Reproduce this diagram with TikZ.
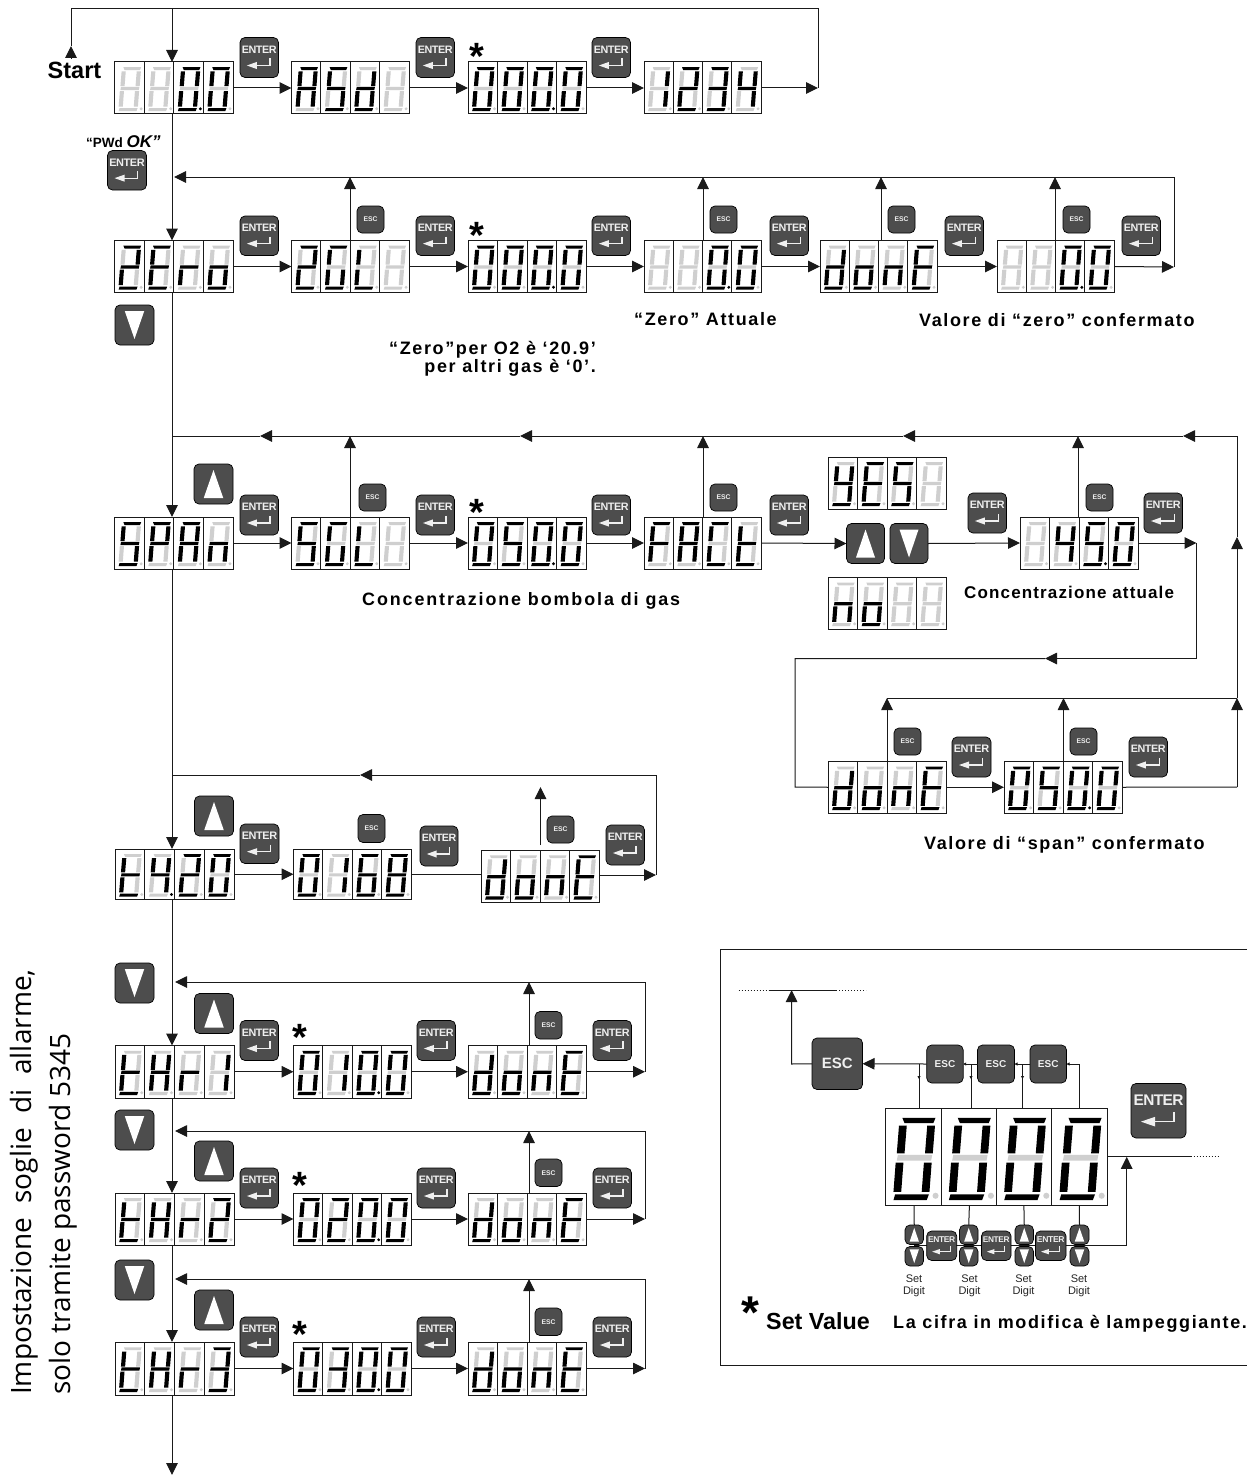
\documentclass[tikz,border=0pt]{standalone}
\usepackage{fontspec}
\setmainfont{Liberation Sans}
\newfontfamily\sidefont{Open Sans}
\newfontfamily\lblfont[LetterSpace=9]{Liberation Sans}
\newfontfamily\lblwide[LetterSpace=10.6]{Liberation Sans}
\newfontfamily\lblnarrow[LetterSpace=6.7]{Liberation Sans}
\usetikzlibrary{arrows.meta,calc}
\definecolor{dimseg}{HTML}{CFCFCF}
\definecolor{btngray}{HTML}{4D4D4D}
\definecolor{btntext}{HTML}{EFEFEF}
\definecolor{linegray}{HTML}{1A1A1A}
\makeatletter
\newcommand{\DSeg}[3]{\in@{#1}{#2}\ifin@\fill[black] #3;\else\fill[dimseg] #3;\fi}
\makeatother
\tikzset{
 conn/.style={draw=linegray,line width=1pt},
 arr/.style={conn,-{Triangle[length=12pt,width=11.5pt]}},
 tiny/.style={conn,line width=.8pt,-{Triangle[length=3pt,width=3pt]}},
 dispbox/.style={draw=linegray,line width=1pt,fill=white,inner sep=0pt,outer sep=0pt,anchor=north west},
 btn/.style={draw=black,line width=.7pt,fill=btngray,rounded corners=5pt,inner sep=0pt,outer sep=0pt,anchor=north west},
 lbl/.style={inner sep=0pt,anchor=base west,text=black},
 lblf/.style={font=\lblfont\bfseries\fontsize{18}{18}\selectfont},
 stars/.style={inner sep=0pt,font=\bfseries\fontsize{38}{38}\selectfont},
 sdcap/.style={inner sep=0pt,font=\fontsize{11}{12.5}\selectfont,align=center,text=black!85},
}
% one digit: x0 y0 w h segs
\newcommand{\Cell}[5]{%
 \pgfmathsetmacro\rr{0.055*#3}%
 \begin{scope}[shift={(#1,#2)},x=#3pt,y=-#4pt]
 \DSeg{a}{#5}{(.30,.10)--(.90,.10)--(.86,.155)--(.34,.155)--cycle}
 \DSeg{f}{#5}{(.24,.18)--(.38,.18)--(.34,.465)--(.20,.465)--cycle}
 \DSeg{b}{#5}{(.75,.18)--(.89,.18)--(.85,.465)--(.71,.465)--cycle}
 \DSeg{g}{#5}{(.22,.48)--(.84,.48)--(.82,.54)--(.20,.54)--cycle}
 \DSeg{e}{#5}{(.18,.56)--(.32,.56)--(.28,.86)--(.14,.86)--cycle}
 \DSeg{c}{#5}{(.69,.56)--(.83,.56)--(.79,.86)--(.65,.86)--cycle}
 \DSeg{d}{#5}{(.17,.885)--(.78,.885)--(.74,.945)--(.14,.945)--cycle}
 \DSeg{p}{#5}{(.90,.90) circle[radius=\rr pt]}
 \end{scope}}
% display: name x0 y0 x1 y1 d1 d2 d3 d4
\newcommand{\Disp}[9]{%
 \pgfmathsetmacro\dw{#4-#2}\pgfmathsetmacro\dh{#5-#3}\pgfmathsetmacro\cw{\dw/4}%
 \pgfmathsetmacro\xa{#2+\cw}\pgfmathsetmacro\xb{#2+2*\cw}\pgfmathsetmacro\xc{#2+3*\cw}%
 \node[dispbox,minimum width=\dw pt,minimum height=\dh pt] (#1) at (#2,#3) {};
 \draw[conn] (\xa,#3)--(\xa,#5) (\xb,#3)--(\xb,#5) (\xc,#3)--(\xc,#5);
 \Cell{#2}{#3}{\cw}{\dh}{#6}\Cell{\xa}{#3}{\cw}{\dh}{#7}\Cell{\xb}{#3}{\cw}{\dh}{#8}\Cell{\xc}{#3}{\cw}{\dh}{#9}}
% enter key: name x0 y0 w h
\newcommand{\Enter}[5]{%
 \node[btn,minimum width=#4 pt,minimum height=#5 pt] (#1) at (#2,#3) {};
 \pgfmathsetmacro\fs{#4*0.28}%
 \node[inner sep=0pt,text=btntext] (#1-t) at ($(#1.north west)+(.5*#4,.30*#5)$) {\fontsize{\fs}{\fs}\bfseries\selectfont\addfontfeature{LetterSpace=-4}ENTER};
 \begin{scope}[shift={(#2,#3)},x=#4pt,y=-#5pt]
 \draw[btntext,line width=0.028*#4 pt] (.78,.52)--(.78,.70)--(.38,.70);
 \fill[btntext] (.44,.61)--(.44,.79)--(.18,.70)--cycle;
 \end{scope}}
% esc key: name x0 y0 w h fontsize
\newcommand{\Esc}[6]{%
 \node[btn,minimum width=#4 pt,minimum height=#5 pt,text=btntext,font=\bfseries\fontsize{#6}{#6}\selectfont] (#1) at (#2,#3) {ESC};}
% arrow keys: name x0 y0 w h
\newcommand{\UpKey}[5]{%
 \node[btn,minimum width=#4 pt,minimum height=#5 pt] (#1) at (#2,#3) {};
 \begin{scope}[shift={(#2,#3)},x=#4pt,y=-#5pt]\fill[white] (.5,.15)--(.75,.85)--(.25,.85)--cycle;\end{scope}}
\newcommand{\DownKey}[5]{%
 \node[btn,minimum width=#4 pt,minimum height=#5 pt] (#1) at (#2,#3) {};
 \begin{scope}[shift={(#2,#3)},x=#4pt,y=-#5pt]\fill[white] (.5,.85)--(.75,.15)--(.25,.15)--cycle;\end{scope}}
\newcommand{\SetDigit}[3]{\node[sdcap] (#1) at (#2,#3) {Set\\Digit};}
\begin{document}
\begin{tikzpicture}[x=1pt,y=-1pt]
\path[use as bounding box,fill=white] (0,0) rectangle (1247,1477);
\coordinate (busx) at (172,0);
% ---------- row 1
\Disp{a1}{114.5}{62}{233}{114}{}{}{abcdefp}{abcdef}
\Disp{a2}{291.5}{62}{409}{114}{abcefg}{afgcd}{bcdeg}{}
\Disp{a3}{468}{62}{586}{114}{abcdef}{abcdef}{abcdefp}{abcdef}
\Disp{a4}{644}{62}{761}{114}{bc}{abged}{abgcd}{fgbc}
\Enter{ea1}{240}{37.5}{38.5}{40}
\Enter{ea2}{416}{37.5}{38.5}{40}
\Enter{ea3}{592}{37.5}{38.5}{40}
\Enter{epwd}{107.5}{150.5}{39}{39.5}
\node[stars] (s1) at (477,56) {*};
\node[lbl,font=\bfseries\fontsize{23.5}{23.5}\selectfont] (start) at (47.5,79) {Start};
\node[lbl] (pwd) at (86,147) {\fontsize{13.5}{14}\bfseries\selectfont “PWd \textit{\fontsize{17}{17}\selectfont OK”}};
\coordinate (startb) at (71,58);
\coordinate (starta) at (71,46);
\coordinate (tl) at (71,8.5);
\coordinate (tb) at (172,8.5);
\coordinate (tr) at (818,8.5);
\coordinate (tre) at (818,88);
\draw[conn] (starta) -- (tl) -- (tr) -- (tre);
\draw[arr] (startb) -- (starta);
\draw[arr] (tb) -- (a1.north -| tb);
\draw[arr] (a1.east) -- (a2.west);
\draw[arr] (a2.east) -- (a3.west);
\draw[arr] (a3.east) -- (a4.west);
\draw[arr] (a4.east) -- (tre);
% ---------- row 2
\Disp{z1}{114.5}{240.5}{233}{292.5}{abged}{afged}{eg}{cdeg}
\Disp{z2}{291.5}{240.5}{409}{292.5}{abged}{afedc}{fed}{}
\Disp{z3}{468}{240.5}{586}{292.5}{abcdef}{abcdef}{abcdefp}{abcdef}
\Disp{z4}{644}{240.5}{761}{292.5}{}{}{abcdefp}{abcdef}
\Disp{z5}{820}{240.5}{937}{292.5}{bcdeg}{cdeg}{ceg}{afged}
\Disp{z6}{997}{240.5}{1114}{292.5}{}{}{abcdefp}{abcdef}
\Enter{ez1}{240}{216}{38.5}{39.5}
\Enter{ez2}{416}{216}{38.5}{39.5}
\Enter{ez3}{592}{216}{38.5}{39.5}
\Enter{ez4}{770}{216}{38.5}{39.5}
\Enter{ez5}{945}{216}{38.5}{39.5}
\Enter{ez6}{1122}{216}{38.5}{39.5}
\Esc{xz2}{357}{206}{27}{27}{6.8}
\Esc{xz4}{710}{206}{27}{27}{6.8}
\Esc{xz5}{888}{206}{27}{27}{6.8}
\Esc{xz6}{1063}{206}{27}{27}{6.8}
\DownKey{dn1}{115}{305}{39}{40}
\node[stars] (s2) at (477,235) {*};
\coordinate (z2t) at (350,177);
\coordinate (z4t) at (703,177);
\coordinate (z5t) at (881,177);
\coordinate (z6t) at (1055,177);
\coordinate (ztr) at (1174,177);
\coordinate (zte) at (1174,267);
\coordinate (ztl) at (174,177);
\draw[arr] (a1.south -| busx) -- (z1.north -| busx);
\draw[arr] (z1.east) -- (z2.west);
\draw[arr] (z2.east) -- (z3.west);
\draw[arr] (z3.east) -- (z4.west);
\draw[arr] (z4.east) -- (z5.west);
\draw[arr] (z5.east) -- (z6.west);
\draw[arr] (z6.east) -- (zte);
\draw[conn] (zte) -- (ztr);
\draw[arr] (ztr) -- (ztl);
\draw[arr] (z2.north -| z2t) -- (z2t);
\draw[arr] (z4.north -| z4t) -- (z4t);
\draw[arr] (z5.north -| z5t) -- (z5t);
\draw[arr] (z6.north -| z6t) -- (z6t);
\node[lbl,lblf,anchor=base east] (tz1) at (596,354) {“Zero”per O2 è ‘20.9’};
\node[lbl,lblf,anchor=base east] (tz1b) at (596,372) {per altri gas è ‘0’.};
\node[lbl,lblf] (tz2) at (634,325) {“Zero” Attuale};
\node[lbl,lblf] (tz3) at (919,326) {Valore di “zero” confermato};
% ---------- row 3
\Disp{c1}{114.5}{517}{233}{569}{afgcd}{abefg}{abcefg}{ceg}
\Disp{c2}{291.5}{517}{409}{569}{afgcd}{afedc}{fed}{}
\Disp{c3}{468}{517}{586}{569}{abcdef}{afgcd}{abcdefp}{abcdef}
\Disp{c4}{644}{517}{761}{569}{afge}{abcefg}{afed}{fged}
\Disp{yes}{828}{457}{946}{509}{bcdfg}{afged}{afgcd}{}
\Disp{no}{828}{577.5}{946}{629}{ceg}{cdeg}{}{}
\Disp{c5}{1020}{517}{1138}{569}{}{fgbc}{afgcdp}{abcdef}
\Disp{c6}{828}{761.5}{946}{813}{bcdeg}{cdeg}{ceg}{afged}
\Disp{c7}{1004}{761.5}{1122}{813}{abcdef}{afgcd}{abcdefp}{abcdef}
\UpKey{uc1}{194}{464}{39}{40}
\Enter{ec1}{240}{495}{38.5}{40}
\Enter{ec2}{416}{495}{38.5}{40}
\Enter{ec3}{592}{495}{38.5}{40}
\Enter{ec4}{770}{495}{38.5}{40}
\Enter{ec5}{968}{493}{38.5}{40}
\Enter{ec6}{1144}{493}{38.5}{40}
\Enter{ec7}{952}{737}{39}{40}
\Enter{ec8}{1129}{737}{38.5}{40}
\Esc{xc2}{359}{484}{27}{27}{6.8}
\Esc{xc4}{710}{484}{27}{27}{6.8}
\Esc{xc5}{1086}{484}{27}{27}{6.8}
\Esc{xc6}{894}{728}{27}{27}{6.8}
\Esc{xc7}{1070}{728}{27}{27}{6.8}
\UpKey{uy}{846.5}{523.5}{38}{40}
\DownKey{dy}{890}{523.5}{38}{40}
\node[stars] (s3) at (477,512) {*};
\coordinate (ca) at (1183,436);
\coordinate (cb) at (903,436);
\coordinate (cc) at (520,436);
\coordinate (cd) at (260,436);
\coordinate (ce) at (172,436);
\coordinate (cr) at (1237,436);
\coordinate (cu1) at (350,436);
\coordinate (cu2) at (703,436);
\coordinate (cu3) at (1078,436);
\coordinate (rb) at (1237,787);
\coordinate (rm) at (1237,698);
\coordinate (rh) at (1237,537);
\coordinate (lr) at (1196.5,543);
\coordinate (lra) at (1196.5,658.5);
\coordinate (lrb) at (1045,658.5);
\coordinate (lrc) at (795,658.5);
\coordinate (lrd) at (795,787);
\coordinate (uu1) at (887,698);
\coordinate (uu2) at (1063.5,698);
\draw[arr] (z1.south -| busx) -- (c1.north -| busx);
\draw[arr] (c1.east) -- (c2.west);
\draw[arr] (c2.east) -- (c3.west);
\draw[arr] (c3.east) -- (c4.west);
\draw[arr] (c4.east) -- (uy.west);
\draw[arr] (dy.east) -- (c5.west);
\draw[arr] (c5.east) -- (lr);
\draw[conn] (lr) -- (lra);
\draw[arr] (lra) -- (lrb);
\draw[conn] (lrb) -- (lrc) -- (lrd) -- (c6.west);
\draw[arr] (c6.east) -- (c7.west);
\draw[conn] (c7.east) -- (rb);
\draw[arr] (rb) -- (rm);
\draw[conn] (uu1) -- (rm);
\draw[arr] (rm) -- (rh);
\draw[conn] (rh) -- (cr);
\draw[arr] (cr) -- (ca);
\draw[arr] (ca) -- (cb);
\draw[arr] (cb) -- (cc);
\draw[arr] (cc) -- (cd);
\draw[conn] (cd) -- (ce);
\draw[arr] (c2.north -| cu1) -- (cu1);
\draw[arr] (c4.north -| cu2) -- (cu2);
\draw[arr] (c5.north -| cu3) -- (cu3);
\draw[arr] (c6.north -| uu1) -- (uu1);
\draw[arr] (c7.north -| uu2) -- (uu2);
\node[lbl,font=\lblwide\bfseries\fontsize{17.9}{18}\selectfont] (tc1) at (362,605) {Concentrazione bombola di gas};
\node[lbl,font=\lblnarrow\bfseries\fontsize{17}{17}\selectfont] (tc2) at (964,598) {Concentrazione attuale};
\node[lbl,lblf] (tc3) at (924,849) {Valore di “span” confermato};
% ---------- row t4.20
\Disp{t1}{115}{849}{234}{899.5}{fged}{fgbcp}{abged}{abcdef}
\Disp{t2}{293.5}{849}{411}{899.5}{abcdef}{bc}{afgedc}{abcdefg}
\Disp{t3}{481}{850}{599}{902.5}{bcdeg}{cdeg}{ceg}{afged}
\UpKey{ut}{194.5}{796}{39}{40}
\Enter{et1}{240}{824}{39}{39.5}
\Enter{et2}{420}{826}{38}{40}
\Enter{et3}{606}{825}{38.5}{40}
\Esc{xt2}{358}{814.5}{27}{28}{6.8}
\Esc{xt3}{547}{816}{27}{27}{6.8}
\coordinate (tta) at (656,875);
\coordinate (ttb) at (656,775);
\coordinate (ttc) at (360,775);
\coordinate (ttd) at (172,775);
\coordinate (ttu) at (540.5,787);
\coordinate (ttv) at (540.5,845);
\draw[arr] (c1.south -| busx) -- (t1.north -| busx);
\draw[arr] (t1.east) -- (t2.west);
\draw[conn] (t2.east) -- (t3.west |- t2.east);
\draw[arr] (t3.east |- tta) -- (tta);
\draw[conn] (tta) -- (ttb);
\draw[arr] (ttb) -- (ttc);
\draw[conn] (ttc) -- (ttd);
\draw[arr] (ttv) -- (ttu);
% ---------- threshold rows
\newcommand{\Thr}[7]{% prefix digit y0 y1 topline downkeyY digit
 \Disp{#1a}{115}{#3}{234}{#4}{fged}{bcefg}{eg}{#2}
 \Disp{#1b}{293.5}{#3}{411}{#4}{abcdef}{#7}{abcdefp}{abcdef}
 \Disp{#1c}{468}{#3}{586}{#4}{bcdeg}{cdeg}{ceg}{afged}
 \pgfmathsetmacro\my{(#3+#4)/2}\pgfmathsetmacro\ue{#3-52}\pgfmathsetmacro\en{#3-25}\pgfmathsetmacro\es{#3-34}%
 \pgfmathsetmacro\st{#3-8}%
 \UpKey{#1u}{194.5}{\ue}{39}{40}
 \DownKey{#1d}{115}{#6}{39}{40}
 \Enter{#1e1}{240}{\en}{38.5}{40}
 \Enter{#1e2}{417}{\en}{38.5}{40}
 \Enter{#1e3}{593}{\en}{38.5}{40}
 \Esc{#1x}{535}{\es}{27}{27.5}{6.8}
 \node[stars] (#1s) at (300,\st) {*};
 \coordinate (#1r) at (645,\my);
 \coordinate (#1t) at (645,#5);
 \coordinate (#1l) at (175,#5);
 \coordinate (#1m) at (529,#5);
 \draw[arr] (#1a.east) -- (#1b.west);
 \draw[arr] (#1b.east) -- (#1c.west);
 \draw[arr] (#1c.east) -- (#1r);
 \draw[conn] (#1r) -- (#1t);
 \draw[arr] (#1t) -- (#1l);
 \draw[arr] (#1c.north -| #1m) -- (#1m);}
\Thr{p}{bc}{1045.5}{1098}{982}{963}{bc}
\Thr{q}{abged}{1193}{1245}{1131}{1110}{abged}
\Thr{r}{abgcd}{1342}{1395}{1279}{1260}{abgcd}
\coordinate (bot) at (172,1475);
\draw[arr] (t1.south -| busx) -- (pa.north -| busx);
\draw[arr] (pa.south -| busx) -- (qa.north -| busx);
\draw[arr] (qa.south -| busx) -- (ra.north -| busx);
\draw[arr] (ra.south -| busx) -- (bot);
% ---------- side text
\node[inner sep=0pt,anchor=base west,rotate=90,font=\sidefont\fontsize{28}{28}\selectfont] (side1) at (31,1395) {Impostazione\ \ soglie\ \ di\ \ allarme,};
\node[inner sep=0pt,anchor=base west,rotate=90,font=\sidefont\fontsize{28}{28}\selectfont] (side2) at (70,1395) {solo tramite password 5345};
% ---------- inset
\coordinate (fa) at (1247,949);
\coordinate (fb) at (720.5,949);
\coordinate (fc) at (720.5,1365);
\coordinate (fd) at (1247,1365);
\draw[conn] (fa) -- (fb) -- (fc) -- (fd);
\Disp{big}{885.7}{1108}{1107.2}{1205.5}{abcdef}{abcdef}{abcdef}{abcdef}
\Esc{xb0}{812}{1038}{50.5}{51.5}{15}
\Esc{xb1}{926.7}{1045}{36.5}{38}{10}
\Esc{xb2}{977.5}{1045}{37}{38}{10}
\Esc{xb3}{1030}{1045}{36.5}{38}{10}
\Enter{eb}{1131}{1083.5}{55}{54.5}
\coordinate (ibt) at (1126.7,1245.8);
\coordinate (ibl) at (914,1245.8);
\draw[conn] (ibl) -- (ibt);
\Enter{em1}{926.7}{1231}{30}{29.5}
\Enter{em2}{981.5}{1231}{29.5}{29.5}
\Enter{em3}{1035.5}{1231}{30.5}{29.5}
\UpKey{ub1}{905}{1225}{18.5}{19.5}
\DownKey{db1}{905}{1246.5}{18.5}{19.5}
\UpKey{ub2}{959.5}{1225}{18.5}{19.5}
\DownKey{db2}{959.5}{1246.5}{18.5}{19.5}
\UpKey{ub3}{1015}{1225}{18.5}{19.5}
\DownKey{db3}{1015}{1246.5}{18.5}{19.5}
\UpKey{ub4}{1070}{1225}{19}{19.5}
\DownKey{db4}{1070}{1246.5}{19}{19.5}
\SetDigit{sd1}{914}{1286}
\SetDigit{sd2}{969.5}{1286}
\SetDigit{sd3}{1023.5}{1286}
\SetDigit{sd4}{1079}{1286}
\coordinate (it) at (791.6,990);
\coordinate (itc) at (791.6,1064);
\coordinate (it1) at (768.7,990);
\coordinate (it2) at (836,990);
\coordinate (it3) at (738.5,990);
\coordinate (it4) at (866,990);
\draw[conn] (it1) -- (it2);
\draw[conn,dotted,line width=.7pt] (it3) -- (it1);
\draw[conn,dotted,line width=.7pt] (it2) -- (it4);
\draw[arr] (xb0.west) -- (itc) -- (it);
\draw[arr] (xb1.west) -- (xb0.east);
\coordinate (ib1) at (919,1064);
\coordinate (ib2) at (971,1064);
\coordinate (ib3) at (1022.5,1064);
\coordinate (ib4) at (1079,1064);
\draw[conn,line width=.8pt] (big.north -| ib1) -- (ib1);
\draw[conn,line width=.8pt] (big.north -| ib2) -- (ib2);
\draw[conn,line width=.8pt] (big.north -| ib3) -- (ib3);
\draw[conn,line width=.8pt] (big.north -| ib4) -- (ib4);
\draw[tiny] ($(ib1)+(0,11)$) -- ($(ib1)+(0,15)$);
\draw[tiny] ($(ib2)+(0,11)$) -- ($(ib2)+(0,15)$);
\draw[tiny] ($(ib3)+(0,11)$) -- ($(ib3)+(0,15)$);
\draw[tiny] (ib4) -- (xb3.east);
\draw[tiny] (xb2.west) -- (xb1.east);
\draw[tiny] (xb3.west) -- (xb2.east);
\coordinate (bk1) at (914,1205.5);
\coordinate (bk2) at (969.4,1205.5);
\coordinate (bk3) at (1023.9,1205.5);
\coordinate (bk4) at (1079.3,1205.5);
\draw[conn] (bk1) -- (ub1.north);
\draw[conn] (bk2) -- (ub2.north);
\draw[conn] (bk3) -- (ub3.north);
\draw[conn] (bk4) -- (ub4.north);
\coordinate (ir) at (1126.7,1156.8);
\coordinate (ir1) at (1190.6,1156.8);
\coordinate (ir2) at (1219,1156.8);
\draw[conn] (big.east |- ir) -- (ir1);
\draw[conn,dotted,line width=.7pt] (ir1) -- (ir2);
\draw[arr] (ibt) -- (ir);
\node[stars,font=\bfseries\fontsize{46}{46}\selectfont] (s5) at (750,1313) {*};
\node[lbl,font=\bfseries\fontsize{23.3}{23.3}\selectfont] (sv) at (766,1329) {Set Value};
\node[lbl,lblf] (cf) at (893,1328) {La cifra in modifica è lampeggiante.};
\end{tikzpicture}
\end{document}
